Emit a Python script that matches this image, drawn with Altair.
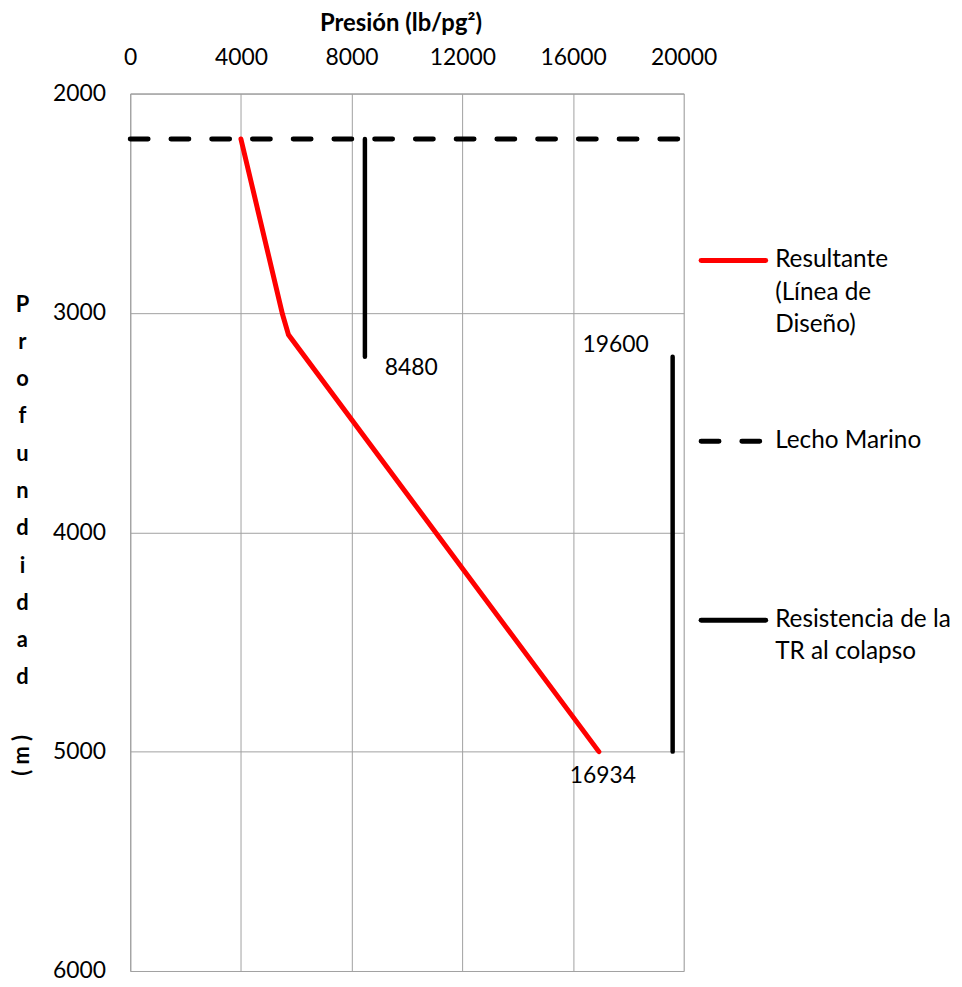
import altair as alt
import pandas as pd

# ---- data ----
res_pressure = [4000, 5500, 5720, 16934]
res_depth = [2207, 3005, 3100, 5000]

lecho_pressure = [0, 20000]
lecho_depth = [2207, 2207]

tr_pressure = [8480, 8480, 19600, 19600]
tr_depth = [2207, 3200, 3200, 5000]
tr_segment = [1, 1, 2, 2]

label_values = [8480, 19600, 16934]
label_depths = [3200, 3200, 5000]

x_ticks = [0, 4000, 8000, 12000, 16000, 20000]
y_ticks = [2000, 3000, 4000, 5000, 6000]

legend_labels = ["Resultante\n(Línea de\nDiseño)", "Lecho Marino", "Resistencia de la\nTR al colapso"]
x_title = "Presión (lb/pg²)"
y_title_letters = list("Profundidad")
y_title_unit = "( m )"

FONT = "Lato"
FS = 23
LFS = 24.5
GRID = "#a0a0a0"

res_df = pd.DataFrame({"p": res_pressure, "d": res_depth, "o": range(len(res_pressure))})
lecho_df = pd.DataFrame({"p": lecho_pressure, "d": lecho_depth, "o": range(len(lecho_pressure))})
tr_df = pd.DataFrame({"p": tr_pressure, "d": tr_depth, "seg": tr_segment, "o": range(len(tr_pressure))})

xscale = alt.Scale(domain=[0, 20000], nice=False, zero=False)
yscale = alt.Scale(domain=[2000, 6000], reverse=True, nice=False, zero=False)

xaxis = alt.Axis(orient="top", values=x_ticks, title=x_title, grid=True, gridColor=GRID,
                 domainColor=GRID, ticks=False, tickSize=0, labelPadding=36,
                 labelBaseline="middle", labelFont=FONT, labelFontSize=FS, labelColor="black",
                 titleFont=FONT, titleFontSize=24, titleFontWeight="bold", titleColor="black",
                 titleY=-70, titleX=272, titleBaseline="middle", format="d", labelFlush=False)
yaxis = alt.Axis(values=y_ticks, title=y_title_letters, grid=True, gridColor=GRID,
                 domainColor=GRID, ticks=False, tickSize=0, labelPadding=25,
                 labelFont=FONT, labelFontSize=FS, labelColor="black", format="d",
                 titleFont=FONT, titleFontSize=22, titleFontWeight="bold", titleColor="black",
                 titleAngle=0, titleX=-109, titleY=212, titleAlign="center",
                 titleBaseline="middle", titleLineHeight=37.5, labelFlush=False)

red = alt.Chart(res_df).mark_line(color="#ff0000", strokeWidth=5, strokeCap="round").encode(
    x=alt.X("p:Q", scale=xscale, axis=xaxis),
    y=alt.Y("d:Q", scale=yscale, axis=yaxis),
    order="o:Q",
)

lecho = alt.Chart(lecho_df).mark_line(color="black", strokeWidth=5, strokeCap="round",
                                      strokeDash=[18, 23]).encode(
    x=alt.X("p:Q", scale=xscale), y=alt.Y("d:Q", scale=yscale), order="o:Q")

tr = alt.Chart(tr_df).mark_line(color="black", strokeWidth=4.5, strokeCap="round").encode(
    x=alt.X("p:Q", scale=xscale), y=alt.Y("d:Q", scale=yscale), detail="seg:N", order="o:Q")

label_specs = [dict(align="left", dx=20, dy=11),
               dict(align="right", dx=-24, dy=-12),
               dict(align="center", dx=4, dy=25)]
labels = []
for v, d, spec in zip(label_values, label_depths, label_specs):
    df = pd.DataFrame({"p": [v], "d": [d], "t": [str(v)]})
    labels.append(alt.Chart(df).mark_text(font=FONT, fontSize=FS, color="black",
                                          baseline="middle", **spec).encode(
        x=alt.X("p:Q", scale=xscale), y=alt.Y("d:Q", scale=yscale), text="t:N"))

# y title unit, rotated
unit = alt.Chart(pd.DataFrame({"t": [y_title_unit]})).mark_text(
    font=FONT, fontSize=22, fontWeight="bold", angle=270, align="center", baseline="middle",
    color="black").encode(x=alt.value(-109), y=alt.value(666), text="t:N")

# legend (drawn manually)
leg_layers = []
leg_y = [168, 350, 530]
leg_style = [dict(color="#ff0000"), dict(color="black", strokeDash=[18, 23]), dict(color="black")]
leg_x2 = [639.5, 634, 639.5]
for lab, yy, st, x2 in zip(legend_labels, leg_y, leg_style, leg_x2):
    one = pd.DataFrame({"t": [lab]})
    leg_layers.append(alt.Chart(one).mark_rule(strokeWidth=5, strokeCap="round", **st).encode(
        x=alt.value(574.5), x2=alt.value(x2), y=alt.value(yy)))
    leg_layers.append(alt.Chart(one).mark_text(
        font=FONT, fontSize=LFS, color="black", align="left", baseline="middle",
        lineBreak="\n", lineHeight=32.5).encode(
        x=alt.value(649), y=alt.value(yy), text="t:N"))

chart = alt.layer(red, lecho, tr, *labels, unit, *leg_layers).properties(
    width=557, height=883,
    autosize=alt.AutoSizeParams(type="none"),
    padding={"left": 123, "top": 83, "right": 272, "bottom": 12},
).configure_view(stroke=None).configure(background="white")

chart.save("out.html", embed_options={"renderer": "svg", "actions": False})
